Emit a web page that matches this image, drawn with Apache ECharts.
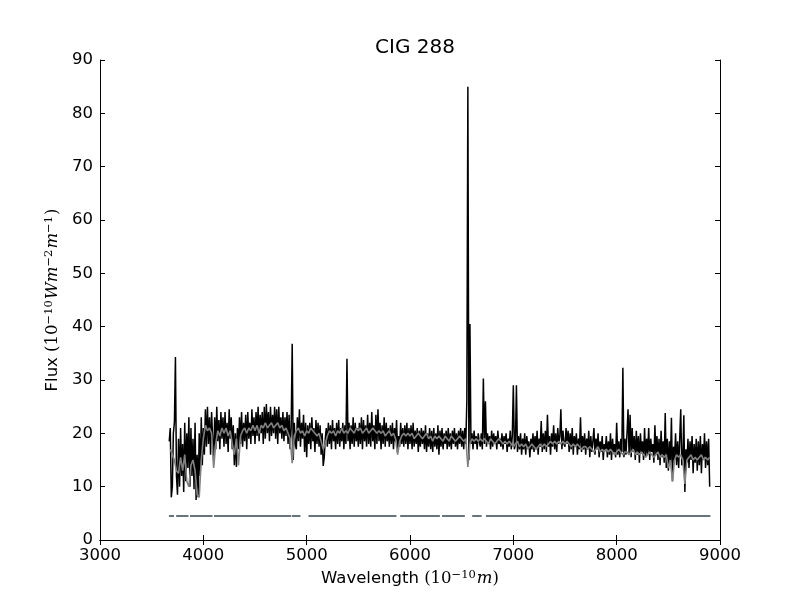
<!DOCTYPE html>
<html>
<head>
<meta charset="utf-8">
<script src="https://cdn.jsdelivr.net/npm/echarts@6/dist/echarts.min.js"></script>
<style>
  html, body { margin: 0; padding: 0; background: #fff; }
  #chart { width: 800px; height: 600px; }
</style>
</head>
<body>
<div id="chart"></div>
<script>
// observed spectrum, sampled every 10 A from 3670 A
const obsStart = 3670;
const obsStep = 10;
const obsFlux = [
  18.5, 21, 8,
  10, 20, 22, 34.3, 12, 8.5, 19, 10, 21, 12,
  18, 9, 22, 11, 20, 13.5, 23, 10, 21, 12,
  19, 9.5, 22, 7.5, 16, 8, 20, 12, 23, 14,
  21, 16, 24.5, 17.5, 25, 18, 23, 16, 24, 19,
  15, 23, 17, 25, 18.5, 22.5, 17, 24, 19, 23,
  17.5, 24, 18, 22, 16.5, 24.5, 19, 23, 17, 21.5,
  14, 20, 13.7, 21, 17, 23, 18, 24, 17.5, 22,
  18.5, 23.5, 17, 24, 19, 22, 18, 24.5, 19.5, 23,
  18, 24, 19.5, 25, 18.5, 23.5, 20, 24, 18, 25,
  19, 25.5, 20, 24, 18.5, 25, 19.5, 23.5, 20, 25,
  19, 24.5, 18, 25, 20, 23, 19, 24, 18.5, 23,
  19.5, 24, 18, 23.5, 17, 21, 36.8, 15, 22, 18,
  17, 23, 18.5, 24.5, 17.5, 22, 19, 23.5, 16.5, 22,
  15.5, 21.5, 18, 22, 17, 23, 18.5, 21, 16.5, 22.5,
  18, 22, 17.5, 21.5, 16, 20, 13.9, 15.5, 19, 21,
  17.5, 22, 18, 21.5, 17, 22.5, 18.5, 21, 17, 22,
  18, 22.5, 17.5, 21, 18.5, 22, 17, 21.5, 18, 34,
  18.5, 22, 17, 21.5, 18, 23, 17.5, 22, 18.5, 21,
  17.5, 22, 18, 23, 17, 22.5, 18.5, 21.5, 17.5, 23.5,
  18, 22, 17.5, 24, 18.5, 21.5, 17, 23.5, 18, 24.5,
  18.5, 22, 17, 21.5, 18, 23, 17.5, 22, 18.5, 21,
  17.5, 21.5, 18, 22, 17, 21, 18.5, 22.5, 16.5, 19.5,
  17.5, 22, 18, 21, 17.5, 21.5, 18, 22, 17, 21,
  18, 21.5, 17, 22, 17.5, 20.5, 18, 21, 16.5, 20.5,
  17.5, 21, 18, 20.5, 17, 21.5, 16.5, 20, 17.5, 21,
  17, 20.5, 16.5, 21, 17.5, 20, 17, 21.5, 16, 20.5,
  17.5, 21, 17, 20, 18, 20.5, 17, 21, 17.5, 20,
  17, 20.5, 18, 21, 17.5, 20, 17, 20.5, 18, 21,
  17.5, 20.5, 17, 21, 18, 26, 85, 15, 40.5, 18,
  20, 17, 20.5, 18, 19.5, 17, 20, 18.5, 17.5, 20,
  17, 30.3, 18, 26, 17.5, 20, 18, 19.5, 17, 20.5,
  17.5, 20, 18, 19.5, 17, 20.5, 18, 19, 17.5, 20,
  17, 19.5, 18, 20, 16.5, 19, 17.5, 20.5, 17, 19.5,
  29, 17, 18, 29, 16.5, 19.5, 17, 20, 16, 19,
  17, 20, 16, 19.5, 17.5, 18.5, 15.5, 19, 17, 20,
  16.5, 19.5, 17, 20.5, 16, 19, 17.5, 22.3, 16.5, 20,
  17, 20.5, 16.5, 23.5, 17.5, 19.5, 16, 20, 17.5, 21.5,
  17, 20, 16.5, 21, 18, 19.5, 24.5, 17, 20.5, 18,
  17.5, 21, 18, 20.5, 16.5, 20, 17, 21, 16, 19.5,
  17.5, 20, 16, 19, 17, 23, 16.5, 19.5, 17, 20,
  16, 19, 17, 20.5, 15.5, 19.5, 16.5, 18.5, 21, 16,
  19, 17, 20, 15.5, 18.5, 16.5, 19.5, 15, 18, 17,
  19.5, 15.5, 18.5, 16, 20, 15, 19, 16.5, 18, 15.5,
  22, 16, 18.5, 15.5, 19, 16.5, 32.3, 15.5, 19, 16,
  20, 24.5, 16, 23.5, 15.5, 21, 16.5, 19.5, 15, 20.5,
  16, 19.5, 14.5, 20, 16.5, 18.5, 15, 21, 15.5, 19,
  16, 21, 15, 19, 16.5, 18, 14.5, 21.5, 16, 19.5,
  15, 19, 14, 20.5, 15.5, 18.5, 14.5, 23.8, 13.5, 19,
  13, 18.5, 14.5, 22.9, 11, 17.5, 15, 20, 14, 18.5,
  13.5, 19, 24.5, 14, 15, 23.4, 9, 17, 14.5, 19,
  13.5, 18.5, 15, 19.5, 12.5, 18, 14.5, 19, 13, 18.5,
  14, 19.5, 12.5, 18, 15, 20, 13.5, 18.5, 14, 19,
  10
];

// fitted stellar model, sampled every 20 A from 3680 A
const modelStart = 3680;
const modelStep = 20;
const modelFlux = [
  17,
  16, 15, 13, 12.5, 15.5, 13, 16, 11, 10, 14,
  15, 13, 8.5, 8, 15, 19, 21.5, 20.5, 21, 20,
  13.5, 18, 20.5, 19.5, 21, 20, 21, 19.5, 20.5, 18,
  16, 19, 14, 19.5, 20.5, 21, 20, 21, 20.5, 21.5,
  20.5, 21.5, 20, 21.5, 21, 22, 21, 21.5, 22, 21,
  21.5, 22, 21, 21.5, 20.5, 21, 20, 19, 14.4, 19.5,
  20.5, 21, 20, 20.5, 19.5, 20.5, 20, 21, 20.5, 20,
  19.5, 20, 18.5, 17, 18, 19.5, 20.5, 20, 20.5, 19.5,
  20.5, 20, 21, 20, 20.5, 20, 21, 20.5, 20, 21,
  20.5, 21, 20, 20.5, 21, 20, 20.5, 21, 20.5, 20,
  20.5, 20, 20.5, 19.5, 20, 20.5, 19.5, 20, 19, 16,
  18.5, 19.5, 20, 19.5, 20, 19.5, 20, 19, 19.5, 20,
  19.5, 19, 19.5, 20, 19, 19.5, 18.5, 19.5, 19, 19.5,
  19, 18.5, 19.5, 19, 18.5, 19.5, 19, 18.5, 19, 19.5,
  19, 18.5, 19, 13.7, 18, 19, 18.5, 19, 18.5, 19,
  18.5, 19, 18.5, 18, 19, 18.5, 18, 18.5, 19, 18.5,
  18, 18.5, 18, 18.5, 18, 17.5, 18, 18.5, 17.5, 18,
  17.5, 18, 17, 17.5, 18, 17.5, 17, 17.5, 18, 17.5,
  18, 17.5, 18, 18.5, 18, 18.5, 18, 18.5, 18, 18.5,
  18, 18.5, 18, 17.5, 18, 17.5, 18, 17.5, 17, 17.5,
  17.5, 17, 17.5, 17, 16.5, 17, 17.5, 16.5, 17, 16.5,
  17, 16.5, 17, 16.5, 16, 16.5, 17, 16.5, 16, 16.5,
  16.5, 16, 16.5, 17, 16, 16.5, 16, 16.5, 16, 15.5,
  16, 16.5, 16, 15.5, 16, 16.5, 15.5, 16, 15.5, 16,
  13.5, 15, 11, 15, 16, 15.5, 16, 15, 10.5, 15,
  15.5, 16, 15, 15.5, 15, 15.5, 16, 15, 15.5, 15,
  15.5
];

// masked / fitted wavelength ranges
const maskRanges = [
  [3667, 3716], [3737, 3856], [3871, 4089], [4103, 4849], [4856, 4940],
  [5018, 5869], [5905, 6289], [6310, 6531], [6602, 6693], [6735, 8907]
];
const maskLevel = 4.5;

const xTicks = { min: 3000, max: 9000, interval: 1000 };
const yTicks = { min: 0, max: 90, interval: 10 };

const chart = echarts.init(document.getElementById('chart'));

const obsData = obsFlux.map(function (v, i) { return [obsStart + i * obsStep, v]; });
const modelData = modelFlux.map(function (v, i) { return [modelStart + i * modelStep, v]; });
const maskData = [];
maskRanges.forEach(function (r) {
  maskData.push([r[0], maskLevel], [r[1], maskLevel], [r[1], '-']);
});

const font = 'DejaVu Sans';
const mathFont = 'DejaVu Serif';
const fs = 16.5;

function axisBase(show) {
  return {
    type: 'value',
    axisLine: { show: true, lineStyle: { color: '#000', width: 1 } },
    axisTick: { show: true, inside: true, length: 5, lineStyle: { color: '#000' } },
    axisLabel: {
      show: show, color: '#000', fontFamily: font, fontSize: fs, margin: 7,
      formatter: function (v) { return String(v); }
    },
    splitLine: { show: false }
  };
}

const richMath = {
  m: { fontFamily: mathFont, fontStyle: 'italic', fontSize: fs, color: '#000' },
  r: { fontFamily: mathFont, fontSize: fs, color: '#000' },
  s: { fontFamily: mathFont, fontSize: 11.5, color: '#000', verticalAlign: 'top', padding: [0, 1, 8, 0] },
  t: { fontFamily: font, fontSize: fs, color: '#000' }
};

const option = {
  animation: false,
  backgroundColor: '#fff',
  title: {
    text: 'CIG 288',
    left: 410,
    top: 33,
    textAlign: 'center',
    textStyle: { fontFamily: font, fontSize: 20, fontWeight: 'normal', color: '#000' }
  },
  grid: { left: 100, right: 80, top: 60, bottom: 60 },
  xAxis: [
    Object.assign(axisBase(true), {
      min: xTicks.min, max: xTicks.max, interval: xTicks.interval,
      name: '{t|Wavelength }{r|(10}{s|−10}{m|m}{r|)}',
      nameLocation: 'middle',
      nameGap: 27,
      nameTextStyle: { rich: richMath }
    }),
    Object.assign(axisBase(false), {
      position: 'top',
      min: xTicks.min, max: xTicks.max, interval: xTicks.interval
    })
  ],
  yAxis: [
    Object.assign(axisBase(true), {
      min: yTicks.min, max: yTicks.max, interval: yTicks.interval,
      name: '{t|Flux }{r|(10}{s|−10}{m|Wm}{s|−2}{m|m}{s|−1}{r|)}',
      nameLocation: 'middle',
      nameRotate: 90,
      nameGap: 33,
      nameTextStyle: { rich: richMath }
    }),
    Object.assign(axisBase(false), {
      position: 'right',
      min: yTicks.min, max: yTicks.max, interval: yTicks.interval
    })
  ],
  series: [
    {
      type: 'line',
      data: obsData,
      showSymbol: false,
      lineStyle: { color: '#000', width: 1.5 },
      z: 2
    },
    {
      type: 'line',
      data: modelData,
      showSymbol: false,
      lineStyle: { color: '#808080', width: 1.6 },
      z: 3
    },
    {
      type: 'line',
      data: maskData,
      showSymbol: false,
      connectNulls: false,
      lineStyle: { color: '#66757c', width: 2 },
      z: 4
    }
  ]
};

chart.setOption(option);
</script>
</body>
</html>
